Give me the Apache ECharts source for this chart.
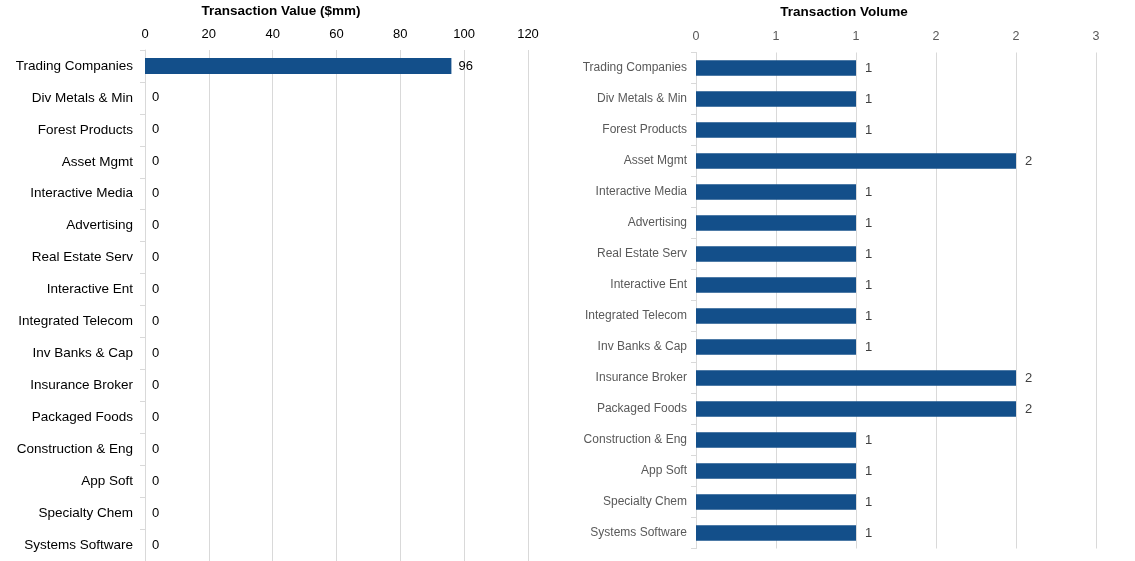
<!DOCTYPE html>
<html>
<head>
<meta charset="utf-8">
<script src="https://cdn.jsdelivr.net/npm/echarts@6/dist/echarts.min.js"></script>
<style>html,body{margin:0;padding:0;background:#fff}#c{width:1135px;height:561px}</style>
</head>
<body>
<div id="c"></div>
<script>
const categories = ["Trading Companies","Div Metals & Min","Forest Products","Asset Mgmt","Interactive Media","Advertising","Real Estate Serv","Interactive Ent","Integrated Telecom","Inv Banks & Cap","Insurance Broker","Packaged Foods","Construction & Eng","App Soft","Specialty Chem","Systems Software"];
const transactionValue = [96,0,0,0,0,0,0,0,0,0,0,0,0,0,0,0];
const transactionVolume = [1,1,1,2,1,1,1,1,1,1,2,2,1,1,1,1];
const valueTitle = "Transaction Value ($mm)";
const volumeTitle = "Transaction Volume";

const FONT = "Liberation Sans, Arial, sans-serif";
const BAR = "#134F8A";
const GRID = "#d9d9d9";
const chart = echarts.init(document.getElementById('c'), null, {renderer:'canvas'});
chart.setOption({
  animation:false,
  textStyle:{fontFamily:FONT},
  graphic:[
    {type:'text', x:281, y:11, style:{text:valueTitle, textAlign:'center', textVerticalAlign:'middle', font:'bold 13.5px '+FONT, fill:'#000'}},
    {type:'text', x:844, y:12, style:{text:volumeTitle, textAlign:'center', textVerticalAlign:'middle', font:'bold 13.5px '+FONT, fill:'#000'}}
  ],
  grid:[
    {left:145, width:383, top:50, height:512},
    {left:696, width:400, top:52.5, height:496}
  ],
  xAxis:[
    {gridIndex:0, type:'value', position:'top', min:0, max:120, interval:20,
     axisLine:{show:false}, axisTick:{show:false},
     axisLabel:{color:'#000', fontSize:13, margin:9, fontFamily:FONT},
     splitLine:{lineStyle:{color:GRID, width:1}}},
    {gridIndex:1, type:'value', position:'top', min:0, max:2.5, interval:0.5,
     axisLine:{show:false}, axisTick:{show:false},
     axisLabel:{color:'#595959', fontSize:12.5, margin:9, fontFamily:FONT, formatter:v=>String(Math.round(v))},
     splitLine:{lineStyle:{color:GRID, width:1}}}
  ],
  yAxis:[
    {gridIndex:0, type:'category', data:categories, inverse:true,
     axisLine:{show:true, lineStyle:{color:GRID}},
     axisTick:{show:true, length:5, lineStyle:{color:GRID}},
     axisLabel:{color:'#000', fontSize:13.5, margin:12, fontFamily:FONT}},
    {gridIndex:1, type:'category', data:categories, inverse:true,
     axisLine:{show:true, lineStyle:{color:GRID}},
     axisTick:{show:true, length:5, lineStyle:{color:GRID}},
     axisLabel:{color:'#595959', fontSize:12, margin:9, fontFamily:FONT}}
  ],
  series:[
    {type:'bar', xAxisIndex:0, yAxisIndex:0, data:transactionValue, barWidth:'50%',
     itemStyle:{color:BAR},
     label:{show:true, position:'right', distance:7, color:'#000', fontSize:13, fontFamily:FONT}},
    {type:'bar', xAxisIndex:1, yAxisIndex:1, data:transactionVolume, barWidth:'50%',
     itemStyle:{color:BAR},
     label:{show:true, position:'right', distance:9, color:'#404040', fontSize:13, fontFamily:FONT}}
  ]
});
</script>
</body>
</html>
